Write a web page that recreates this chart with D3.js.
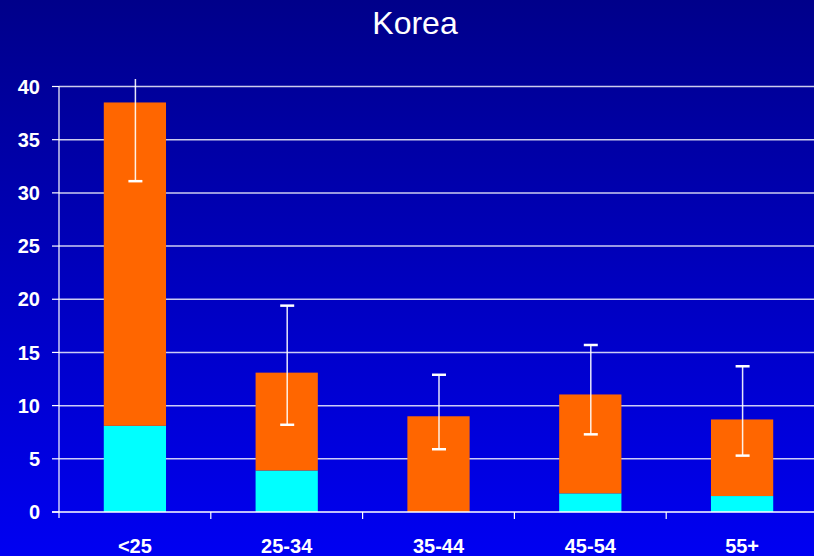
<!DOCTYPE html>
<html>
<head>
<meta charset="utf-8">
<script src="https://cdn.jsdelivr.net/npm/d3@7/dist/d3.min.js"></script>
<style>
  html, body { margin: 0; padding: 0; background: #000090; }
  svg { display: block; }
</style>
</head>
<body>
<svg id="chart" width="814" height="556"></svg>
<script>
const title = "Korea";
const categories = ["<25", "25-34", "35-44", "45-54", "55+"];
const cyanValues = [8.1, 3.9, 0, 1.75, 1.5];
const orangeValues = [30.4, 9.2, 9.0, 9.3, 7.2];
const errLow = [31.1, 8.2, 5.9, 7.3, 5.3];
const errHigh = [45.9, 19.4, 12.9, 15.7, 13.7];
const yTicks = [0, 5, 10, 15, 20, 25, 30, 35, 40];

const W = 814, H = 556;
const svg = d3.select("#chart");
const defs = svg.append("defs");
const grad = defs.append("linearGradient").attr("id", "bg")
  .attr("x1", 0).attr("y1", 0).attr("x2", 0).attr("y2", 1);
grad.append("stop").attr("offset", "0%").attr("stop-color", "#00008A");
grad.append("stop").attr("offset", "100%").attr("stop-color", "#0000F2");
svg.append("rect").attr("width", W).attr("height", H).attr("fill", "url(#bg)");

const x0 = 59, x1 = 818;
const x = d3.scaleBand().domain(categories).range([x0, x1])
  .paddingInner(0.59).paddingOuter(0.295);
const y = d3.scaleLinear().domain([0, 40]).range([512, 86.5]);

const font = "'Liberation Sans', Arial, sans-serif";

// title
svg.append("text").attr("x", 415).attr("y", 34)
  .attr("text-anchor", "middle").attr("fill", "#fff")
  .style("font-family", font).style("font-size", "32px").text(title);

// gridlines
svg.append("g").selectAll("line").data(yTicks.filter(t => t > 0)).join("line")
  .attr("x1", x0).attr("x2", W).attr("y1", d => y(d)).attr("y2", d => y(d))
  .attr("stroke", "#ffffff").attr("stroke-opacity", 0.8).attr("stroke-width", 1.5);

// clip
defs.append("clipPath").attr("id", "plotClip").append("rect")
  .attr("x", x0).attr("y", y(40.7)).attr("width", W - x0).attr("height", y(0) - y(40.7));

// stacked bars
const rows = categories.map((c, i) => ({ cat: c, cyan: cyanValues[i], orange: orangeValues[i] }));
const stack = d3.stack().keys(["cyan", "orange"])(rows);
const colors = { cyan: "#00FFFF", orange: "#FF6600" };
const plot = svg.append("g").attr("clip-path", "url(#plotClip)");
plot.selectAll("g.series").data(stack).join("g").attr("class", "series")
  .attr("fill", d => colors[d.key])
  .selectAll("rect").data(d => d.filter(p => p[1] > p[0])).join("rect")
  .attr("x", d => x(d.data.cat))
  .attr("width", x.bandwidth())
  .attr("y", d => y(d[1]))
  .attr("height", d => y(d[0]) - y(d[1]));

// error bars
const errG = plot.append("g");
categories.forEach((c, i) => {
  const cx = x(c) + x.bandwidth() / 2 + 0.5;
  errG.append("line").attr("x1", cx).attr("x2", cx)
    .attr("y1", y(errLow[i])).attr("y2", y(errHigh[i]))
    .attr("stroke", "#ffffff").attr("stroke-opacity", 0.9).attr("stroke-width", 1.5);
  [errLow[i], errHigh[i]].forEach(v => {
    errG.append("line").attr("x1", cx - 7).attr("x2", cx + 7)
      .attr("y1", y(v)).attr("y2", y(v))
      .attr("stroke", "#ffffff").attr("stroke-width", 2.5);
  });
});

// axes
const axG = svg.append("g");
axG.append("line").attr("x1", x0).attr("x2", x0).attr("y1", y(40)).attr("y2", y(0) + 6)
  .attr("stroke", "#fff").attr("stroke-width", 1.2);
axG.append("line").attr("x1", x0 - 7).attr("x2", W).attr("y1", y(0)).attr("y2", y(0))
  .attr("stroke", "#fff").attr("stroke-width", 1.5);
axG.selectAll("line.yt").data(yTicks).join("line").attr("class", "yt")
  .attr("x1", x0 - 7).attr("x2", x0).attr("y1", d => y(d)).attr("y2", d => y(d))
  .attr("stroke", "#fff").attr("stroke-width", 1.2);
axG.selectAll("text.yl").data(yTicks).join("text").attr("class", "yl")
  .attr("x", 40).attr("y", d => y(d)).attr("dy", "0.36em")
  .attr("text-anchor", "end").attr("fill", "#fff")
  .style("font-family", font).style("font-weight", "bold").style("font-size", "20px")
  .text(d => d);
// x ticks at category boundaries
const boundaries = categories.map(c => x(c) + x.bandwidth() + x.step() * x.paddingInner() / 2 + x.step() * 0 );
axG.selectAll("line.xt").data(boundaries).join("line").attr("class", "xt")
  .attr("x1", d => d).attr("x2", d => d).attr("y1", y(0)).attr("y2", y(0) + 7)
  .attr("stroke", "#fff").attr("stroke-width", 1.2);
axG.selectAll("text.xl").data(categories).join("text").attr("class", "xl")
  .attr("x", d => x(d) + x.bandwidth() / 2).attr("y", 553)
  .attr("text-anchor", "middle").attr("fill", "#fff")
  .style("font-family", font).style("font-weight", "bold").style("font-size", "20px")
  .text(d => d);
</script>
</body>
</html>
